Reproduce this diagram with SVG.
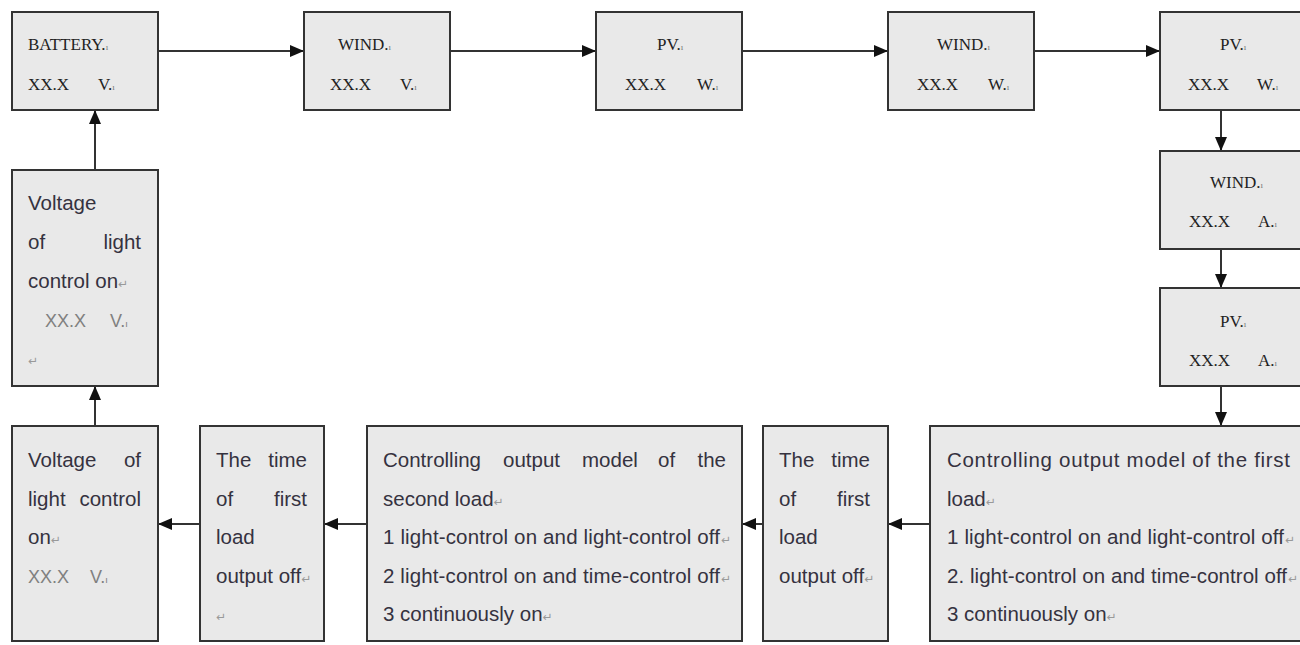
<svg xmlns="http://www.w3.org/2000/svg" width="1300" height="645" viewBox="0 0 1300 645">
<style>
.box{fill:#e9e9e9;stroke:#333;stroke-width:2}
.ser{font-family:"Liberation Serif","Times New Roman",serif;font-size:17px;fill:#222}
.sans{font-family:"Liberation Sans",Arial,"DejaVu Sans",sans-serif;font-size:20.5px;fill:#35323f}
.val{fill:#808080;font-size:18px}
.m{font-size:9px;fill:#777}
.rt{font-family:"DejaVu Sans",sans-serif;font-size:12px;fill:#999}
.end{text-anchor:end}
.conn path{stroke:#333;stroke-width:2;fill:none;marker-end:url(#ah)}
</style>
<defs>
<marker id="ah" markerUnits="userSpaceOnUse" markerWidth="14" markerHeight="12" refX="14" refY="6" orient="auto">
<path d="M0,0 L14,6 L0,12 z" fill="#111"/>
</marker>
</defs>
<rect width="1300" height="645" fill="#fff"/>

<g class="conn">
<path d="M158,51 H304"/>
<path d="M450,51 H596"/>
<path d="M742,51 H888"/>
<path d="M1034,51 H1160"/>
<path d="M1221,110 V151"/>
<path d="M1221,249 V288"/>
<path d="M1221,386 V426"/>
<path d="M930,524 H888"/>
<path d="M763,524 H742"/>
<path d="M367,524 H324"/>
<path d="M200,524 H158"/>
<path d="M95,426 V386"/>
<path d="M95,170 V110"/>
</g>

<g id="battery">
<rect class="box" x="12" y="12" width="146" height="98"/>
<text class="ser" x="28" y="50">BATTERY.<tspan class="m">ı</tspan></text>
<text class="ser" x="28" y="90">XX.X</text>
<text class="ser" x="98" y="90">V.<tspan class="m">ı</tspan></text>
</g>

<g id="wind-v">
<rect class="box" x="304" y="12" width="146" height="98"/>
<text class="ser" x="338" y="50">WIND.<tspan class="m">ı</tspan></text>
<text class="ser" x="330" y="90">XX.X</text>
<text class="ser" x="400" y="90">V.<tspan class="m">ı</tspan></text>
</g>

<g id="pv-w">
<rect class="box" x="596" y="12" width="146" height="98"/>
<text class="ser" x="657" y="50">PV.<tspan class="m">ı</tspan></text>
<text class="ser" x="625" y="90">XX.X</text>
<text class="ser" x="697" y="90">W.<tspan class="m">ı</tspan></text>
</g>

<g id="wind-w">
<rect class="box" x="888" y="12" width="146" height="98"/>
<text class="ser" x="937" y="50">WIND.<tspan class="m">ı</tspan></text>
<text class="ser" x="917" y="90">XX.X</text>
<text class="ser" x="988" y="90">W.<tspan class="m">ı</tspan></text>
</g>

<g id="pv-w2">
<rect class="box" x="1160" y="12" width="150" height="98"/>
<text class="ser" x="1220" y="50">PV.<tspan class="m">ı</tspan></text>
<text class="ser" x="1188" y="90">XX.X</text>
<text class="ser" x="1257" y="90">W.<tspan class="m">ı</tspan></text>
</g>

<g id="wind-a">
<rect class="box" x="1160" y="151" width="150" height="98"/>
<text class="ser" x="1210" y="188">WIND.<tspan class="m">ı</tspan></text>
<text class="ser" x="1189" y="227">XX.X</text>
<text class="ser" x="1258" y="227">A.<tspan class="m">ı</tspan></text>
</g>

<g id="pv-a">
<rect class="box" x="1160" y="288" width="150" height="98"/>
<text class="ser" x="1220" y="327">PV.<tspan class="m">ı</tspan></text>
<text class="ser" x="1189" y="366">XX.X</text>
<text class="ser" x="1258" y="366">A.<tspan class="m">ı</tspan></text>
</g>

<g id="light-on-top">
<rect class="box" x="12" y="170" width="146" height="216"/>
<text class="sans" x="28" y="210">Voltage</text>
<text class="sans" x="28" y="249">of</text>
<text class="sans end" x="141" y="249">light</text>
<text class="sans" x="28" y="288">control on<tspan class="rt">↵</tspan></text>
<text class="sans val" x="45" y="327">XX.X</text>
<text class="sans val" x="110" y="327">V.<tspan class="m">ı</tspan></text>
<text class="rt" x="28" y="365">↵</text>
</g>

<g id="light-on-bottom">
<rect class="box" x="12" y="426" width="146" height="215"/>
<text class="sans" x="28" y="467">Voltage</text>
<text class="sans end" x="141" y="467">of</text>
<text class="sans" x="28" y="506">light</text>
<text class="sans end" x="141" y="506">control</text>
<text class="sans" x="28" y="544">on<tspan class="rt">↵</tspan></text>
<text class="sans val" x="28" y="583">XX.X</text>
<text class="sans val" x="90" y="583">V.<tspan class="m">ı</tspan></text>
</g>

<g id="time-off-2">
<rect class="box" x="200" y="426" width="124" height="215"/>
<text class="sans" x="216" y="467">The</text>
<text class="sans end" x="307" y="467">time</text>
<text class="sans" x="216" y="506">of</text>
<text class="sans end" x="307" y="506">first</text>
<text class="sans" x="216" y="544">load</text>
<text class="sans" x="216" y="583">output off<tspan class="rt">↵</tspan></text>
<text class="rt" x="216" y="621">↵</text>
</g>

<g id="model-second">
<rect class="box" x="367" y="426" width="375" height="215"/>
<text class="sans" x="383" y="467">Controlling</text>
<text class="sans" x="503" y="467">output</text>
<text class="sans" x="582" y="467">model</text>
<text class="sans" x="658" y="467">of</text>
<text class="sans end" x="726" y="467">the</text>
<text class="sans" x="383" y="506">second load<tspan class="rt">↵</tspan></text>
<text class="sans" x="383" y="544" textLength="337" lengthAdjust="spacing">1 light-control on and light-control off</text>
<text class="rt" x="721" y="544">↵</text>
<text class="sans" x="383" y="583" textLength="337" lengthAdjust="spacing">2 light-control on and time-control off</text>
<text class="rt" x="721" y="583">↵</text>
<text class="sans" x="383" y="621">3 continuously on<tspan class="rt">↵</tspan></text>
</g>

<g id="time-off-1">
<rect class="box" x="763" y="426" width="125" height="215"/>
<text class="sans" x="779" y="467">The</text>
<text class="sans end" x="870" y="467">time</text>
<text class="sans" x="779" y="506">of</text>
<text class="sans end" x="870" y="506">first</text>
<text class="sans" x="779" y="544">load</text>
<text class="sans" x="779" y="583">output off<tspan class="rt">↵</tspan></text>
</g>

<g id="model-first">
<rect class="box" x="930" y="426" width="380" height="215"/>
<text class="sans" x="947" y="467" textLength="343" lengthAdjust="spacing">Controlling output model of the first</text>
<text class="sans" x="947" y="506">load<tspan class="rt">↵</tspan></text>
<text class="sans" x="947" y="544" textLength="337" lengthAdjust="spacing">1 light-control on and light-control off</text>
<text class="rt" x="1285" y="544">↵</text>
<text class="sans" x="947" y="583" textLength="340" lengthAdjust="spacing">2. light-control on and time-control off</text>
<text class="rt" x="1288" y="583">↵</text>
<text class="sans" x="947" y="621">3 continuously on<tspan class="rt">↵</tspan></text>
</g>
</svg>
